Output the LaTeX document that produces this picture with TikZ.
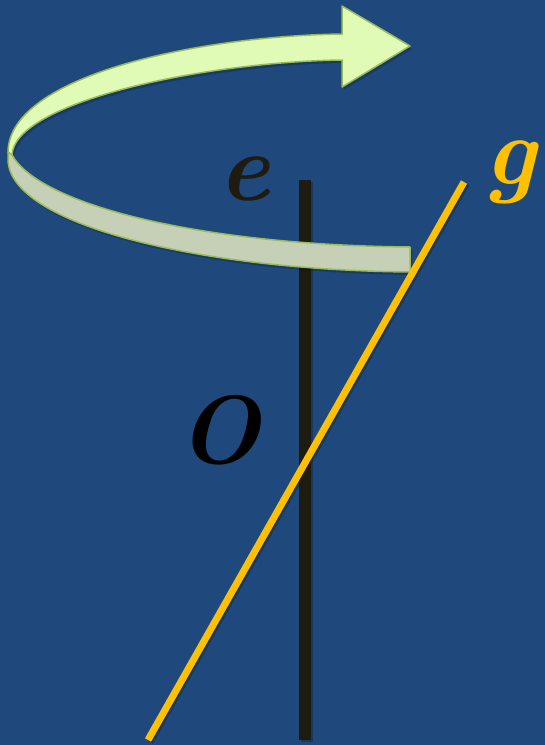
\documentclass[tikz,border=0pt]{standalone}
\usepackage{fontspec}
\definecolor{bgblue}{HTML}{1F497D}
\definecolor{axisblack}{HTML}{1E1C11}
\definecolor{gold}{HTML}{FFC000}
\definecolor{ribbonback}{HTML}{E0FBB6}
\definecolor{ribbonfront}{HTML}{C5D0B6}
\definecolor{ribbonedge}{HTML}{9BBB59}
\tikzset{
  axisline/.style={draw=axisblack,line width=12pt,line cap=butt},
  gline/.style={draw=gold,line width=7pt,line cap=butt},
  shadowline/.style={draw=black,opacity=.22,line cap=butt},
  backband/.style={fill=ribbonback,draw=ribbonedge,line width=1.5pt,line join=round},
  frontband/.style={fill=ribbonfront,draw=ribbonedge,line width=1.5pt,line join=round},
  shadowband/.style={fill=black,opacity=.2},
  lbl/.style={inner sep=0pt,font=\fontsize{97}{97}\selectfont\bfseries\itshape}
}
\begin{document}
\begin{tikzpicture}[x=1pt,y=-1pt]
\fill[bgblue] (0,0) rectangle (545,745);
\useasboundingbox (0,0) rectangle (545,745);
% axis and line end points
\coordinate (eTop) at (304.5,180);
\coordinate (eBot) at (304.5,740);
\coordinate (gTop) at (464,182);
\coordinate (gBot) at (148,740);
% shadows of the lines
\draw[shadowline,line width=12pt,transform canvas={shift={(2pt,-2pt)}}] (eTop) -- (eBot);
\draw[shadowline,line width=7pt,transform canvas={shift={(2pt,-2pt)}}] (gTop) -- (gBot);
% axis e
\draw[axisline] (eTop) -- (eBot);
% ribbon shadow
\begin{scope}[transform canvas={shift={(2pt,-3pt)}}]
\fill[shadowband] (8,152) .. controls (9,75) and (200,36) .. (342,34) -- (342,6) -- (410,46) -- (342,87) -- (342,60) .. controls (200,62) and (14,103) .. (12,155) -- cycle;
\fill[shadowband] (12,155) .. controls (40,205) and (200,245) .. (410,247) -- (410,272) .. controls (200,270) and (10,225) .. (8,160) -- (8,152) -- cycle;
\end{scope}
% back part of the ribbon with arrow head
\filldraw[backband] (8,152) .. controls (9,75) and (200,36) .. (342,34) -- (342,6) -- (410,46) -- (342,87) -- (342,60) .. controls (200,62) and (14,103) .. (12,155) -- cycle;
% front part of the ribbon
\filldraw[frontband] (12,155) .. controls (40,205) and (200,245) .. (410,247) -- (410,272) .. controls (200,270) and (10,225) .. (8,160) -- (8,152) -- cycle;
% line g
\draw[gline] (gTop) -- (gBot);
% labels
\node[lbl,text=axisblack] (e) at (244,179) {e};
\node[lbl,text=gold] (g) at (510,172) {g};
\node[lbl,text=black] (O) at (219,430) {O};
\end{tikzpicture}
\end{document}
